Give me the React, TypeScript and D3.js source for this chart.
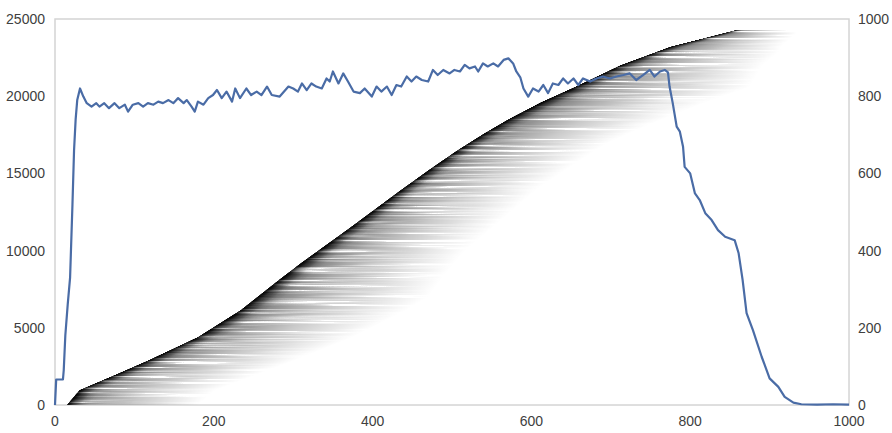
import React from 'react';
import * as d3 from 'd3';

// Concurrency series (right axis)
const conX = [0, 1.5, 10, 11, 13, 16, 19, 22, 24, 26, 28, 31.5, 35.7, 40, 46, 52, 56, 62, 68, 75, 81, 88, 92, 98, 105, 111, 117, 124, 130, 136, 143, 149, 155, 162, 166, 172, 176, 180, 187, 193, 199, 204, 210, 216, 223, 227, 233, 241, 247, 254, 260, 267, 273, 283, 294, 300, 306, 311, 317, 323, 329, 336, 342, 346, 350, 357, 363, 369, 376, 384, 390, 399, 405, 411, 418, 424, 430, 436, 443, 449, 455, 462, 470, 476, 482, 489, 497, 503, 510, 516, 522, 529, 533, 539, 545, 552, 558, 565, 571, 577, 581, 586, 590, 596, 602, 609, 615, 621, 627, 634, 640, 646, 653, 659, 665, 674, 682, 690, 699, 707, 716, 724, 732, 741, 749, 755, 762, 768, 772, 774, 778, 783, 787, 791, 793, 800, 806, 812, 819, 827, 835, 844, 856, 861, 866, 871, 879, 890, 900, 911, 919, 930, 940, 960, 980, 1000];
const conV = [0, 66, 66, 90, 180, 260, 330, 520, 660, 740, 790, 820, 799, 782, 773, 782, 773, 782, 769, 782, 769, 778, 760, 778, 782, 773, 782, 778, 786, 782, 790, 782, 795, 782, 790, 773, 760, 786, 778, 795, 803, 816, 795, 812, 786, 820, 795, 820, 803, 812, 803, 825, 803, 799, 825, 820, 812, 833, 816, 833, 825, 820, 846, 838, 864, 833, 859, 838, 812, 808, 820, 799, 825, 812, 825, 803, 829, 825, 851, 838, 851, 842, 838, 868, 855, 868, 859, 868, 864, 881, 872, 877, 864, 885, 877, 885, 877, 894, 898, 885, 864, 849, 820, 799, 820, 812, 829, 808, 833, 829, 846, 833, 846, 829, 846, 838, 846, 851, 846, 851, 855, 859, 842, 855, 868, 851, 864, 868, 862, 825, 782, 721, 708, 669, 617, 600, 548, 531, 497, 479, 453, 436, 427, 393, 324, 238, 194, 125, 69, 47, 21, 6, 2, 1, 2, 1];

// Request start edge (left axis index -> start time)
const edgeIdx = [0, 970, 2000, 2900, 4400, 6150, 8100, 9200, 11500, 13900, 15300, 16500, 17600, 18500, 19600, 20600, 22000, 23200, 24300];
const edgeStart = [15, 31, 78, 118, 180, 234, 282, 310, 372, 435, 473, 507, 541, 571, 612, 655, 712, 775, 859];
// Visible fade extent of request bars
const fadeIdx = [0, 3000, 7000, 10000, 14000, 17000, 20600, 23000, 24300];
const fadeLen = [165, 185, 215, 185, 170, 175, 220, 150, 80];
const totalRequests = 24300;

const xTicks = [0, 200, 400, 600, 800, 1000];
const leftTicks = [0, 5000, 10000, 15000, 20000, 25000];
const rightTicks = [0, 200, 400, 600, 800, 1000];

export default function App() {
  const W = 892, H = 433;
  const m = { l: 55, r: 849, t: 19, b: 405 };
  const x = d3.scaleLinear().domain([0, 1000]).range([m.l, m.r]);
  const yL = d3.scaleLinear().domain([0, 25000]).range([m.b, m.t]);
  const yR = d3.scaleLinear().domain([0, 1000]).range([m.b, m.t]);
  const startAt = d3.scaleLinear().domain(edgeIdx).range(edgeStart).clamp(true);
  const lenAt = d3.scaleLinear().domain(fadeIdx).range(fadeLen).clamp(true);

  const bands: { x: number; y: number; w: number }[] = [];
  for (let r = 0; r < m.b - m.t; r++) {
    const yTop = m.b - r - 1;
    const idx = yL.invert(yTop + 0.5);
    if (idx > totalRequests) break;
    const s = startAt(idx);
    const L = lenAt(idx);
    bands.push({ x: x(s), y: yTop, w: x(s + L) - x(s) });
  }

  const line = d3.line<number>().x((_, i) => x(conX[i])).y((d) => yR(d));
  const font = "'Liberation Sans', Arial, sans-serif";

  return (
    <svg width={W} height={H} style={{ position: 'absolute', left: 0, top: 0, background: '#fff' }}>
      <defs>
        <linearGradient id="solid" x1="0" y1="0" x2="1" y2="0">
          <stop offset="0" stopColor="#000" stopOpacity={0.9} />
          <stop offset="0.04" stopColor="#000" stopOpacity={0.5} />
          <stop offset="0.1" stopColor="#000" stopOpacity={0.12} />
          <stop offset="0.16" stopColor="#000" stopOpacity={0} />
        </linearGradient>
        <linearGradient id="fade" x1="0" y1="0" x2="1" y2="0">
          <stop offset="0" stopColor="#000" stopOpacity={0.9} />
          <stop offset="0.04" stopColor="#000" stopOpacity={0.65} />
          <stop offset="0.12" stopColor="#000" stopOpacity={0.48} />
          <stop offset="0.3" stopColor="#000" stopOpacity={0.33} />
          <stop offset="0.5" stopColor="#000" stopOpacity={0.21} />
          <stop offset="0.75" stopColor="#000" stopOpacity={0.1} />
          <stop offset="1" stopColor="#000" stopOpacity={0} />
        </linearGradient>
        <filter id="noise" filterUnits="userSpaceOnUse" x="0" y="0" width={W} height={H}>
          <feTurbulence type="fractalNoise" baseFrequency="0.008 0.42" numOctaves={2} seed={7} />
          <feColorMatrix type="matrix" values="4 0 0 0 -1.3  4 0 0 0 -1.3  4 0 0 0 -1.3  0 0 0 0 1" />
        </filter>
        <mask id="streaks" maskUnits="userSpaceOnUse" x="0" y="0" width={W} height={H}>
          <rect x={0} y={0} width={W} height={H} fill="#fff" filter="url(#noise)" />
        </mask>
      </defs>

      <rect x={m.l} y={m.t} width={m.r - m.l} height={m.b - m.t} fill="none" stroke="#d4d4d4" strokeWidth={1.5} />

      <g mask="url(#streaks)">
        {bands.map((b, i) => (
          <rect key={i} x={b.x} y={b.y} width={b.w} height={1} fill="url(#fade)" />
        ))}
      </g>
      <g>
        {bands.map((b, i) => (
          <rect key={i} x={b.x} y={b.y} width={b.w} height={1} fill="url(#solid)" />
        ))}
      </g>

      <path d={line(conV) || ''} fill="none" stroke="#4a6ca6" strokeWidth={2.2} strokeLinejoin="round" />

      <g fontFamily={font} fontSize={14} fill="#404040">
        {leftTicks.map((t) => (
          <text key={'l' + t} x={45} y={yL(t) + 5} textAnchor="end">{t}</text>
        ))}
        {rightTicks.map((t) => (
          <text key={'r' + t} x={858} y={yR(t) + 5} textAnchor="start">{t}</text>
        ))}
        {xTicks.map((t) => (
          <text key={'x' + t} x={x(t)} y={426} textAnchor="middle">{t}</text>
        ))}
      </g>
    </svg>
  );
}
